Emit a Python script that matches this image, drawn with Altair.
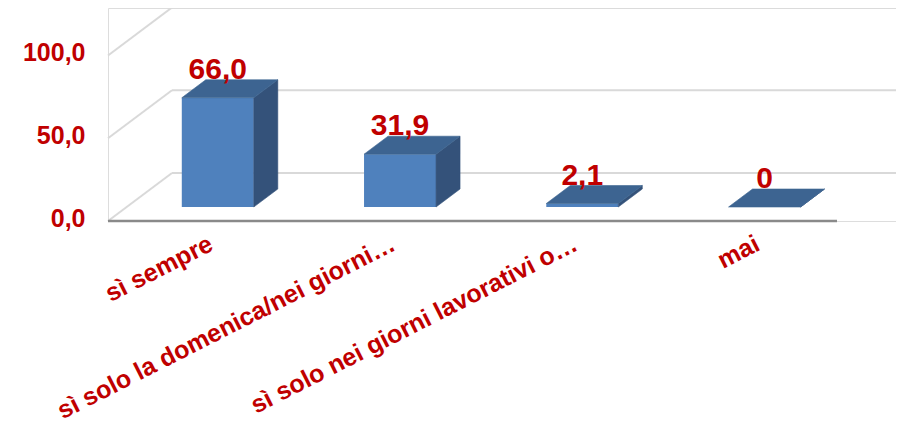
import json
import altair as alt
import pandas as pd

# ---------------- data ----------------
categories = [
    "sì sempre",
    "sì solo la domenica/nei giorni…",
    "sì solo nei giorni lavorativi o…",
    "mai",
]
values = [66.0, 31.9, 2.1, 0.0]
value_labels = ["66,0", "31,9", "2,1", "0"]
y_ticks = [0, 50, 100]

# ---------------- 3D style constants ----------------
PX_X = 182.25          # pixels per category slot
K = 1.655              # pixels per value unit
W, H = 788, 213        # plot area
SLANT = 64.0 / 48.0    # horizontal shift per vertical pixel of depth
FULL_DEPTH = 48        # wall depth (vertical px)
BAR_FRONT = 14         # bar front plane depth (vertical px)
BAR_DEPTH = 18         # bar depth (vertical px)
HALF_W = 36.0 / PX_X   # half bar width (category units)

FRONT = "#4F81BD"
SIDE = "#34527A"
TOP = "#3D6491"
RED = "#C00000"
GRID = "#D9D9D9"
FONT = "Liberation Sans"


def ddx(px):
    return px * SLANT / PX_X


def ddy(px):
    return px / K


n = len(categories)

front_rows, side_rows, top_rows, lab_rows = [], [], [], []
for i, (c, v, lab) in enumerate(zip(categories, values, value_labels)):
    cx = i + 0.5 + ddx(BAR_FRONT)
    L, R = cx - HALF_W, cx + HALF_W
    b = ddy(BAR_FRONT)
    t = v + b
    sx, sy = ddx(BAR_DEPTH), ddy(BAR_DEPTH)
    front_rows.append({"cat": c, "x": L, "x2": R, "y": b, "y2": t})
    for k, (px, py) in enumerate([(R, b), (R, t), (R + sx, t + sy), (R + sx, b + sy)]):
        side_rows.append({"cat": c, "o": k, "x": px, "y": py})
    for k, (px, py) in enumerate([(L, t), (R, t), (R + sx, t + sy), (L + sx, t + sy)]):
        top_rows.append({"cat": c, "o": k, "x": px, "y": py})
    lab_rows.append({"cat": c, "x": cx, "y": t + sy, "label": lab})

grid_rows = []
for v in y_ticks:
    grid_rows.append({"x": ddx(FULL_DEPTH), "x2": n + ddx(FULL_DEPTH),
                      "y": v + ddy(FULL_DEPTH), "y2": v + ddy(FULL_DEPTH)})
    grid_rows.append({"x": 0, "x2": ddx(FULL_DEPTH),
                      "y": v, "y2": v + ddy(FULL_DEPTH)})

xs = alt.Scale(domain=[0, W / PX_X], nice=False, zero=False)
ys = alt.Scale(domain=[0, H / K], nice=False, zero=False)

x_label_expr = (
    json.dumps(categories, ensure_ascii=False)
    + "[round(datum.value - 0.5)]"
)

x_axis = alt.Axis(
    values=[i + 0.5 for i in range(n)],
    labelExpr=x_label_expr,
    labelAngle=-27,
    labelAlign="right",
    labelBaseline="top",
    labelPadding=10,
    labelOffset=6,
    labelFont=FONT,
    labelFontSize=25,
    labelFontWeight="bold",
    labelColor=RED,
    labelLimit=1000,
    labelOverlap=False,
    labelFlush=False,
    ticks=False,
    tickSize=0,
    domain=False,
    grid=False,
    title=None,
)
y_axis = alt.Axis(
    values=y_ticks,
    labelExpr="replace(format(datum.value, '.1f'), '.', ',')",
    labelPadding=23,
    labelOffset=-3,
    labelFont=FONT,
    labelFontSize=25,
    labelFontWeight="bold",
    labelColor=RED,
    labelOverlap=False,
    labelFlush=False,
    labelBaseline="middle",
    ticks=False,
    tickSize=0,
    domain=False,
    grid=False,
    title=None,
)

grid = alt.Chart(pd.DataFrame(grid_rows)).mark_rule(
    color=GRID, strokeWidth=2
).encode(
    x=alt.X("x:Q", scale=xs, axis=x_axis),
    x2="x2:Q",
    y=alt.Y("y:Q", scale=ys, axis=y_axis),
    y2="y2:Q",
)

base_line = alt.Chart(pd.DataFrame({"x": [0], "x2": [n], "y": [0]})).mark_rule(
    color="#8A8A8A", strokeWidth=2.5
).encode(x=alt.X("x:Q", scale=xs), x2="x2:Q", y=alt.Y("y:Q", scale=ys))

front = alt.Chart(pd.DataFrame(front_rows)).mark_rect(color=FRONT).encode(
    x=alt.X("x:Q", scale=xs), x2="x2:Q",
    y=alt.Y("y:Q", scale=ys), y2="y2:Q",
)

side = alt.Chart(pd.DataFrame(side_rows)).mark_line(
    interpolate="linear-closed", filled=True, color=SIDE,
    fill=SIDE, stroke=SIDE, strokeWidth=0.6,
).encode(
    x=alt.X("x:Q", scale=xs),
    y=alt.Y("y:Q", scale=ys),
    detail="cat:N",
    order="o:Q",
)

top = alt.Chart(pd.DataFrame(top_rows)).mark_line(
    interpolate="linear-closed", filled=True, color=TOP,
    fill=TOP, stroke=TOP, strokeWidth=0.6,
).encode(
    x=alt.X("x:Q", scale=xs),
    y=alt.Y("y:Q", scale=ys),
    detail="cat:N",
    order="o:Q",
)

labels = alt.Chart(pd.DataFrame(lab_rows)).mark_text(
    font=FONT, fontSize=30, fontWeight="bold", color=RED,
    baseline="alphabetic", align="center", dy=-1,
).encode(
    x=alt.X("x:Q", scale=xs), y=alt.Y("y:Q", scale=ys), text="label:N"
)

chart = alt.layer(grid, base_line, front, side, top, labels).properties(
    width=W,
    height=H,
    autosize=alt.AutoSizeParams(type="none"),
    padding={"left": 100, "top": 0, "right": 0, "bottom": 208},
).configure_view(strokeWidth=0, stroke="transparent").configure(background="white")

chart.save("out.html", embed_options={"renderer": "svg", "actions": False})
